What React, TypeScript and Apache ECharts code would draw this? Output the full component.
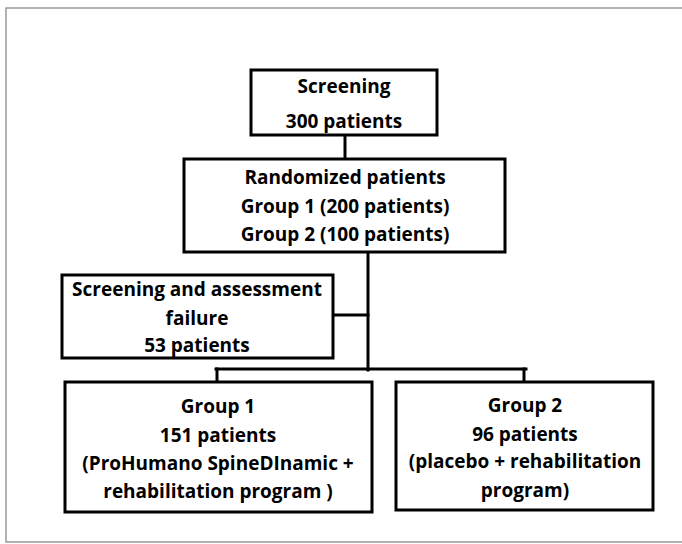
import React, { useEffect, useRef } from "react";
import * as echarts from "echarts";

// Flowchart content (data)
const screeningLines = ["Screening", "300 patients"];
const randomizedLines = ["Randomized patients", "Group 1 (200 patients)", "Group 2 (100 patients)"];
const failureLines = ["Screening and assessment", "failure", "53 patients"];
const group1Lines = ["Group 1", "151 patients", "(ProHumano SpineDInamic +", "rehabilitation program )"];
const group2Lines = ["Group 2", "96 patients", "(placebo + rehabilitation", "program)"];

// Layout (positions / sizes)
type Box = { x: number; y: number; w: number; h: number; lines: string[]; lineYs: number[]; cx: number };
const boxes: Box[] = [
  { x: 251, y: 70, w: 186, h: 65, lines: screeningLines, lineYs: [86, 121], cx: 344 },
  { x: 184, y: 159, w: 321, h: 93, lines: randomizedLines, lineYs: [177, 206, 234], cx: 345 },
  { x: 62, y: 275, w: 271, h: 83, lines: failureLines, lineYs: [289, 318, 345], cx: 197 },
  { x: 65, y: 382, w: 307, h: 130, lines: group1Lines, lineYs: [406, 435, 463, 491], cx: 218 },
  { x: 396, y: 382, w: 257, h: 128, lines: group2Lines, lineYs: [405, 434, 461, 490], cx: 525 },
];
const connectors: number[][] = [
  [345, 135, 345, 159],
  [368, 252, 368, 370],
  [333, 315, 368, 315],
  [216, 369, 526, 369],
  [217, 369, 217, 382],
  [524, 369, 524, 382],
];

const FONT = 'bold 19px "Open Sans", Lato, sans-serif';

export default function App() {
  const ref = useRef<HTMLDivElement>(null);
  useEffect(() => {
    document.body.style.margin = "0";
    const chart = echarts.init(ref.current!, null, { renderer: "svg" });
    const elements: any[] = [];
    elements.push({
      type: "rect",
      shape: { x: 6, y: 8, width: 700, height: 534 },
      style: { fill: "none", stroke: "#9a9a9a", lineWidth: 1.5 },
    });
    connectors.forEach((c) => {
      elements.push({
        type: "line",
        shape: { x1: c[0], y1: c[1], x2: c[2], y2: c[3] },
        style: { stroke: "#000", lineWidth: 3, lineCap: "square" },
      });
    });
    boxes.forEach((b) => {
      elements.push({
        type: "rect",
        shape: { x: b.x, y: b.y, width: b.w, height: b.h },
        style: { fill: "#fff", stroke: "#000", lineWidth: 3 },
      });
      b.lines.forEach((t, i) => {
        elements.push({
          type: "text",
          x: b.cx,
          y: b.lineYs[i],
          style: {
            text: t,
            font: FONT,
            fill: "#000",
            textAlign: "center",
            textVerticalAlign: "middle",
          },
        });
      });
    });
    chart.setOption({
      animation: false,
      backgroundColor: "#fff",
      graphic: { elements },
    });
    return () => chart.dispose();
  }, []);
  return <div ref={ref} style={{ width: 682, height: 544, position: "absolute", left: 0, top: 0 }} />;
}
